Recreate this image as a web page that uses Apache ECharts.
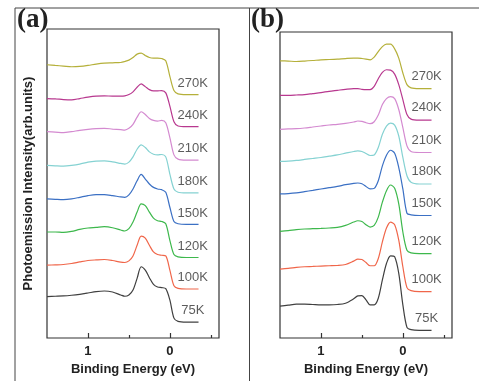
<!DOCTYPE html>
<html>
<head>
<meta charset="utf-8">
<script src="https://cdn.jsdelivr.net/npm/echarts@6/dist/echarts.min.js"></script>
<style>
  html, body { margin: 0; padding: 0; background: #fff; }
  #chart { width: 479px; height: 381px; }
</style>
</head>
<body>
<div id="chart"></div>
<script>
// binding energy grid (eV), shared by all spectra
var energy = [1.5, 1.4, 1.3, 1.2, 1.1, 1.0, 0.9, 0.8, 0.7, 0.6, 0.55, 0.5, 0.45, 0.4, 0.35, 0.3, 0.25, 0.2, 0.15, 0.1, 0.05, 0, -0.05, -0.1, -0.2, -0.35];

var temps = ['270K', '240K', '210K', '180K', '150K', '120K', '100K', '75K'];
var colors = ['#b5b03a', '#b8388f', '#d48ad0', '#85d2d2', '#3b70c4', '#3db84c', '#f0664a', '#404040'];

// panel (a): intensity above each spectrum's tail (arb. units)
var a270 = [30, 29.3, 28.7, 28, 28.3, 29.3, 30.7, 31.7, 32, 32.3, 33.3, 34.7, 37.3, 40.7, 41.7, 39.3, 37.3, 36.7, 36.7, 36.3, 34, 18.3, 4, 0.7, 0, 0];
var a240 = [28.3, 28, 27.3, 27, 28.3, 29.7, 30.7, 31, 30.7, 30.7, 31, 32.3, 35, 39.7, 43, 40.3, 37.3, 36, 36, 36.3, 34, 20.7, 5, 0.7, 0, 0];
var a210 = [28.7, 28.3, 27.7, 28.7, 30, 31, 31.7, 32, 31.3, 30.7, 30.3, 32, 36, 43.3, 48.7, 46, 42, 40, 39.3, 40, 37.7, 22.7, 5.3, 1, 0, 0];
var a180 = [27.7, 27.3, 27, 27.7, 29, 31, 32, 32.3, 31.3, 29.7, 29, 31, 36.3, 44, 48.3, 45.7, 41.3, 39, 38.3, 38.7, 36.3, 19, 4, 0.7, 0, 0];
var a150 = [25.7, 25.3, 25, 25.7, 27.3, 29, 30, 30, 29, 27.7, 27.3, 29.7, 35.7, 44, 50.3, 45.7, 40.7, 37.3, 35.7, 35, 32.3, 17.3, 3, 0.7, 0, 0];
var a120 = [25.7, 25.7, 25.3, 26.3, 28.3, 29.7, 30.3, 31, 30, 27.7, 26.7, 29, 35.7, 45.7, 54, 52.3, 45.7, 39.7, 37, 36.3, 34, 17.3, 3, 0.7, 0, 0];
var a100 = [24, 24.3, 24.7, 25.7, 27.3, 28.7, 29.3, 29.7, 28.7, 27, 26.7, 28.3, 33.3, 44, 53.3, 51.3, 44, 37.3, 34.7, 34, 33.3, 19, 3.3, 0.7, 0, 0];
var a75 = [25.7, 26, 26.3, 27, 28, 29.3, 30.7, 31.3, 30.3, 27.3, 26, 27.3, 32.3, 44, 55.7, 52.3, 44.7, 38, 35.3, 34.7, 33.7, 22.3, 4, 0.7, 0, 0];
var offsetsA = [245, 212.7, 179, 146, 114.3, 81, 49.3, 16];

// panel (b)
var b270 = [28, 27.7, 27.3, 27.7, 28.3, 29, 29.3, 29.7, 30.3, 30.7, 30.7, 30.3, 29.7, 29, 31.7, 37.3, 42.3, 44.7, 44.7, 40, 30.7, 15.7, 4, 0.7, 0, 0];
var b240 = [25, 25, 25.3, 25.7, 26.7, 27.7, 29, 30, 31, 31.7, 31.7, 31, 30.7, 30.7, 34, 41.7, 48, 50.7, 50.3, 46.3, 35.7, 20.7, 5.7, 1, 0, 0];
var b210 = [23.3, 23.7, 24, 24.7, 25.7, 26.7, 27.7, 28.3, 29.3, 30.7, 31.7, 31.3, 30, 29, 31, 37.7, 48.3, 54.3, 56.3, 54.3, 43.3, 25, 6.7, 1, 0, 0];
var b180 = [22.7, 23, 23.7, 24.7, 25.7, 26.7, 28, 29.3, 31, 32.7, 33.3, 32.7, 30.7, 28.7, 29.3, 36.7, 50, 58.3, 61.3, 59.3, 48.3, 26.7, 8.3, 1.7, 0, 0];
var b150 = [21.7, 22, 22.7, 24, 25.3, 26.7, 28, 29.3, 31, 32.3, 32.7, 32, 29.3, 26.7, 27.3, 35, 50, 60.7, 65.7, 62.7, 48.3, 26.7, 2.3, 0.7, 0, 0];
var b120 = [22.3, 23, 24, 24.7, 25, 25.3, 25.7, 26.3, 28.3, 31.7, 33, 32.3, 29, 26.7, 28.3, 36.7, 51.7, 63.3, 69, 65.7, 50, 21.7, 3.3, 0.7, 0, 0];
var b100 = [22.7, 23.3, 24.3, 25, 25.3, 25.7, 26, 26.3, 27.3, 30.7, 32.7, 32.3, 29.3, 26, 26, 33.3, 50, 64, 70, 67.3, 51.7, 25, 4, 1, 0, 0];
var b75 = [24.3, 25.3, 26.3, 26.3, 26, 25.7, 25.7, 26, 27.3, 31.7, 34.7, 35, 30.7, 25.7, 25.7, 32.3, 50.7, 67.3, 75, 74, 57.3, 25.7, 3, 0.7, 0, 0];
var offsetsB = [251, 219.3, 186.7, 155, 123.3, 85, 46.7, 7.7];

var majorTicks = [1, 0];
var minorTicks = [0.5, -0.5];
var labelEnergy = [-0.28, -0.29];   // where the temperature tags sit, per panel
var labelRise = [11.5, 12.3];

var spectraA = [a270, a240, a210, a180, a150, a120, a100, a75];
var spectraB = [b270, b240, b210, b180, b150, b120, b100, b75];

var chart = echarts.init(document.getElementById('chart'));
var font = 'Arial, "Liberation Sans", sans-serif';

function xAxes(gi) {
  var base = { type: 'value', gridIndex: gi, min: -0.6, max: 1.5, inverse: true, position: 'bottom', splitLine: { show: false }, axisLine: { show: false } };
  return [
    Object.assign({}, base, {
      name: 'Binding Energy (eV)', nameLocation: 'middle', nameGap: 25,
      nameTextStyle: { fontFamily: font, fontWeight: 'bold', fontSize: 13, color: '#222' },
      axisTick: { inside: true, length: 5, lineStyle: { color: '#333', width: 1.2 }, customValues: majorTicks },
      axisLabel: { margin: 7, fontFamily: font, fontWeight: 'bold', fontSize: 13, color: '#222', customValues: majorTicks }
    }),
    Object.assign({}, base, {
      axisTick: { inside: true, length: 3, lineStyle: { color: '#333', width: 1.2 }, customValues: minorTicks },
      axisLabel: { show: false }
    })
  ];
}

function yAxis(gi, max, named) {
  return {
    type: 'value', gridIndex: gi, min: 0, max: max,
    axisLine: { show: false }, axisTick: { show: false }, axisLabel: { show: false }, splitLine: { show: false },
    name: named ? 'Photoemission Intensity(arb.units)' : '', nameLocation: 'middle', nameGap: 12,
    nameTextStyle: { fontFamily: font, fontWeight: 'bold', fontSize: 13, color: '#222' }
  };
}

function panelSeries(spectra, offsets, gi) {
  var out = spectra.map(function (s, k) {
    return {
      name: temps[k], type: 'line', xAxisIndex: gi * 2, yAxisIndex: gi,
      showSymbol: false, smooth: 0.3, silent: true,
      lineStyle: { width: 1.2, color: colors[k] },
      data: energy.map(function (e, i) { return [e, offsets[k] + s[i]]; })
    };
  });
  out.push({
    type: 'scatter', xAxisIndex: gi * 2, yAxisIndex: gi, symbolSize: 1, silent: true,
    itemStyle: { color: 'rgba(0,0,0,0)' },
    labelLayout: { hideOverlap: false },
    label: { show: true, position: 'inside', formatter: function (p) { return p.data[2]; }, fontFamily: font, fontSize: 13, color: '#333' },
    data: temps.map(function (t, k) { return [labelEnergy[gi], offsets[k] + labelRise[gi], t]; })
  });
  return out;
}

chart.setOption({
  animation: false,
  grid: [
    { left: 47, top: 29, width: 172, height: 311, show: true, borderColor: '#333', borderWidth: 1.2 },
    { left: 280, top: 32, width: 172, height: 308, show: true, borderColor: '#333', borderWidth: 1.2 }
  ],
  xAxis: xAxes(0).concat(xAxes(1)),
  yAxis: [yAxis(0, 311, true), yAxis(1, 308, false)],
  series: panelSeries(spectraA, offsetsA, 0).concat(panelSeries(spectraB, offsetsB, 1)),
  graphic: [
    { type: 'line', shape: { x1: 15, y1: 8, x2: 479, y2: 8 }, style: { stroke: '#444', lineWidth: 1 } },
    { type: 'line', shape: { x1: 15, y1: 8, x2: 15, y2: 381 }, style: { stroke: '#444', lineWidth: 1 } },
    { type: 'line', shape: { x1: 249.5, y1: 8, x2: 249.5, y2: 381 }, style: { stroke: '#444', lineWidth: 1 } },
    { type: 'text', left: 17, top: 7, style: { text: '(a)', font: 'bold 27px "Liberation Serif", "Times New Roman", serif', fill: '#222' } },
    { type: 'text', left: 251, top: 7, style: { text: '(b)', font: 'bold 27px "Liberation Serif", "Times New Roman", serif', fill: '#222' } }
  ]
});
</script>
</body>
</html>
